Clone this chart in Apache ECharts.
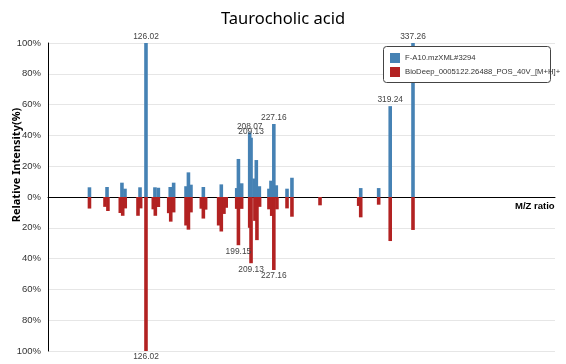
<!DOCTYPE html>
<html>
<head>
<meta charset="utf-8">
<script src="https://cdn.jsdelivr.net/npm/echarts@6/dist/echarts.min.js"></script>
<style>
html,body{margin:0;padding:0;background:#fff;}
#chart{width:566px;height:364px;}
</style>
</head>
<body>
<div id="chart"></div>
<script>
// Mirror plot: sample spectrum (up) vs. library spectrum (down)
var sampleName = 'F-A10.mzXML#3294';
var libraryName = 'BioDeep_0005122.26488_POS_40V_[M+H]+';

var sampleMz = [81.3, 95.2, 107.0, 109.4, 121.3, 126.02, 133.1, 135.8, 145.2, 147.9, 157.7, 159.6, 161.6, 171.4, 185.6, 197.8, 199.15, 201.7, 208.07, 209.13, 211.5, 213.3, 215.7, 223.3, 224.9, 227.16, 229.1, 237.6, 241.5, 295.9, 310.1, 319.24, 337.26];
var sampleInt = [6.3, 6.5, 9.3, 5.4, 6.3, 100, 6.3, 6.0, 6.5, 9.3, 7.0, 16.0, 8.0, 6.5, 8.2, 5.8, 24.7, 8.9, 42.0, 38.5, 12.0, 24.0, 7.0, 5.4, 10.6, 47.4, 7.6, 5.4, 12.5, 5.8, 5.8, 59.0, 100];

var libMz = [81.3, 93.6, 95.9, 105.7, 107.6, 109.6, 119.7, 121.8, 126.02, 131.8, 133.4, 135.8, 144.0, 145.6, 147.9, 157.7, 159.6, 161.6, 169.8, 171.4, 173.2, 183.5, 185.6, 187.7, 189.5, 197.8, 199.15, 201.7, 208.07, 209.13, 212.2, 213.8, 215.9, 223.3, 225.5, 227.16, 229.6, 237.6, 241.5, 263.7, 294.3, 295.9, 310.1, 319.24, 337.26];
var libInt = [7.5, 6.4, 9.1, 10.4, 12.2, 7.4, 12.2, 7.4, 100, 8.0, 12.2, 6.5, 10.5, 16.0, 10.0, 18.5, 21.2, 10.0, 7.6, 14.0, 8.2, 18.5, 22.4, 11.0, 7.0, 7.7, 31.3, 7.7, 20.0, 43.0, 15.5, 28.0, 6.4, 8.0, 12.3, 47.4, 8.0, 7.4, 12.8, 5.4, 5.8, 13.2, 5.0, 28.6, 21.4];

var yTicks = [-100, -80, -60, -40, -20, 0, 20, 40, 60, 80, 100];
var labelThreshold = 30;

var sampleData = sampleMz.map(function (m, i) { return [m, sampleInt[i]]; });
var libData = libMz.map(function (m, i) { return [m, -libInt[i]]; });

function peakLabel(p) {
  return Math.abs(p.value[1]) >= labelThreshold ? p.value[0].toFixed(2) : '';
}

var FONT = '"Liberation Sans", Arial, sans-serif';
var chart = echarts.init(document.getElementById('chart'), null, {renderer: 'canvas'});
chart.setOption({
  animation: false,
  textStyle: {fontFamily: FONT},
  title: {
    text: 'Taurocholic acid',
    left: 'center',
    top: 6,
    textStyle: {fontSize: 16.5, fontWeight: 'normal', color: '#000', fontFamily: '"Noto Sans", sans-serif'}
  },
  grid: {left: 48, right: 11, top: 43, bottom: 13, containLabel: false},
  xAxis: {
    type: 'value',
    min: 48.5,
    max: 449.6,
    name: 'M/Z ratio',
    nameLocation: 'end',
    nameGap: -40,
    nameTextStyle: {fontSize: 9.5, fontWeight: 'bold', color: '#000', verticalAlign: 'top', padding: [4, 0, 0, 0]},
    axisLine: {onZero: true, lineStyle: {color: '#000', width: 1}},
    axisTick: {show: false},
    axisLabel: {show: false},
    splitLine: {show: false}
  },
  yAxis: {
    type: 'value',
    min: yTicks[0],
    max: yTicks[yTicks.length - 1],
    interval: 20,
    axisLine: {show: true, lineStyle: {color: '#000', width: 1}},
    axisTick: {show: false},
    axisLabel: {
      fontSize: 9.5, color: '#333', margin: 7,
      formatter: function (v) { return Math.abs(v) + '%'; }
    },
    splitLine: {lineStyle: {color: '#e6e6e6'}}
  },
  legend: {
    orient: 'vertical',
    left: 390,
    top: 53,
    padding: 0,
    itemWidth: 10,
    itemHeight: 10,
    itemGap: 4,
    icon: 'rect',
    z: 12,
    textStyle: {fontSize: 7.7, color: '#333'},
    data: [sampleName, libraryName]
  },
  graphic: [
    {
      type: 'rect',
      z: 11,
      shape: {x: 383.5, y: 46.5, width: 167, height: 36, r: 3},
      style: {fill: '#fff', stroke: '#444', lineWidth: 1}
    },
    {
      type: 'text',
      z: 11,
      x: 17,
      y: 165,
      rotation: Math.PI / 2,
      style: {
        text: 'Relative Intensity(%)',
        font: 'bold 11px "Noto Sans", sans-serif',
        fill: '#000',
        align: 'center',
        verticalAlign: 'middle'
      }
    }
  ],
  series: [
    {
      name: sampleName,
      type: 'bar',
      barWidth: 3.6,
      barGap: '-100%',
      itemStyle: {color: '#4682b4'},
      label: {show: true, position: 'top', distance: 2, fontSize: 8.4, color: '#444', formatter: peakLabel},
      data: sampleData
    },
    {
      name: libraryName,
      type: 'bar',
      barWidth: 3.6,
      barGap: '-100%',
      itemStyle: {color: '#b22222'},
      label: {show: true, position: 'bottom', distance: 2, fontSize: 8.4, color: '#444', formatter: peakLabel},
      data: libData
    }
  ]
});
</script>
</body>
</html>
